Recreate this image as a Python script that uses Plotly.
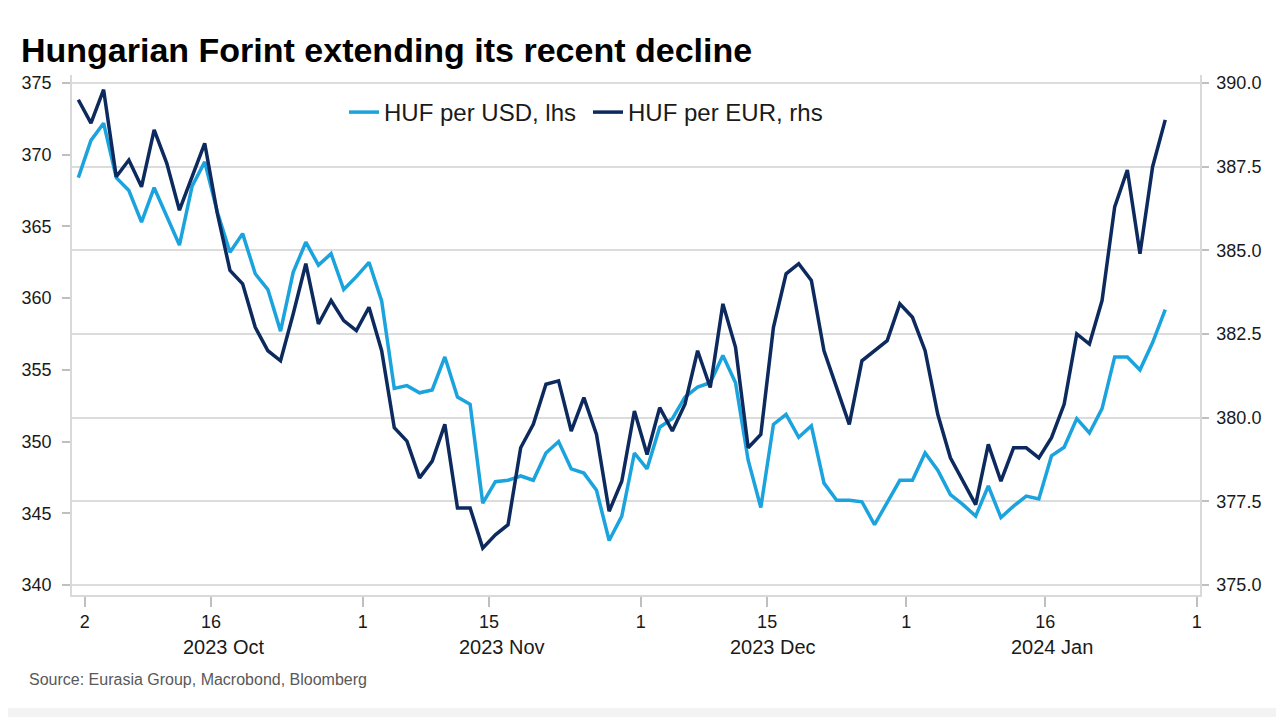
import numpy as np
import pandas as pd
import plotly.graph_objects as go

# ---- data ----
start_date = "2023-10-02"
end_date = "2024-01-30"
dates = pd.bdate_range(start_date, end_date)

huf_per_usd = [368.4, 371.0, 372.2, 368.4, 367.5, 365.3, 367.7, 365.7, 363.7, 367.8,
               369.5, 366.0, 363.2, 364.5, 361.7, 360.6, 357.7, 361.8, 363.9, 362.3,
               363.1, 360.6, 361.5, 362.5, 359.8, 353.7, 353.9, 353.4, 353.6, 355.9,
               353.1, 352.6, 345.7, 347.2, 347.3, 347.6, 347.3, 349.2, 350.0, 348.1,
               347.8, 346.6, 343.1, 344.8, 349.2, 348.1, 351.0, 351.6, 353.1, 353.8,
               354.1, 356.0, 354.1, 348.7, 345.4, 351.2, 351.9, 350.3, 351.1, 347.1,
               345.9, 345.9, 345.8, 344.2, 345.7, 347.3, 347.3, 349.2, 348.0, 346.3,
               345.6, 344.8, 346.9, 344.7, 345.5, 346.2, 346.0, 349.0, 349.6, 351.6,
               350.6, 352.3, 355.9, 355.9, 355.0, 356.9, 359.2]

huf_per_eur = [389.5, 388.8, 389.8, 387.2, 387.7, 386.9, 388.6, 387.6, 386.2, 387.2,
               388.2, 386.1, 384.4, 384.0, 382.7, 382.0, 381.7, 383.1, 384.6, 382.8,
               383.5, 382.9, 382.6, 383.3, 382.0, 379.7, 379.3, 378.2, 378.7, 379.8,
               377.3, 377.3, 376.1, 376.5, 376.8, 379.1, 379.8, 381.0, 381.1, 379.6,
               380.6, 379.5, 377.2, 378.1, 380.2, 378.9, 380.3, 379.6, 380.4, 382.0,
               380.9, 383.4, 382.1, 379.1, 379.5, 382.7, 384.3, 384.6, 384.1, 382.0,
               380.9, 379.8, 381.7, 382.0, 382.3, 383.4, 383.0, 382.0, 380.1, 378.8,
               378.1, 377.4, 379.2, 378.1, 379.1, 379.1, 378.8, 379.4, 380.4, 382.5,
               382.2, 383.5, 386.3, 387.4, 384.9, 387.5, 388.9]

tick_dates = ["2023-10-02", "2023-10-16", "2023-11-01", "2023-11-15", "2023-12-01",
              "2023-12-15", "2024-01-01", "2024-01-16", "2024-02-01"]
tick_labels = ["2", "16", "1", "15", "1", "15", "1", "16", "1"]
month_labels = ["2023 Oct", "2023 Nov", "2023 Dec", "2024 Jan"]
month_starts = ["2023-10-02", "2023-11-01", "2023-12-01", "2024-01-01", "2024-02-01"]

usd_ticks = [340, 345, 350, 355, 360, 365, 370, 375]
eur_ticks = [375.0, 377.5, 380.0, 382.5, 385.0, 387.5, 390.0]

title_text = "Hungarian Forint extending its recent decline"
source_text = "Source: Eurasia Group, Macrobond, Bloomberg"

LIGHT = "#1ba3dd"
DARK = "#0d2a5e"
FONT = "Arial, Liberation Sans, sans-serif"

# ---- business-time helpers ----
def bpos(d):
    return float(np.busday_count(start_date, d)) + 0.5

def bpos_to_dt(p):
    k = int(np.floor(p))
    f = p - k
    d = np.busday_offset(start_date, k, roll="forward")
    return pd.Timestamp(d) + pd.Timedelta(hours=24 * f)

tickvals = [bpos_to_dt(bpos(d)) for d in tick_dates]
month_mid = [bpos_to_dt((bpos(month_starts[i]) + bpos(month_starts[i + 1])) / 2)
             for i in range(len(month_labels))]
x_range = [bpos_to_dt(-0.5), bpos_to_dt(88.75)]

fig = go.Figure()
fig.add_trace(go.Scatter(x=dates, y=huf_per_usd, mode="lines", name="HUF per USD, lhs",
                         line=dict(color=LIGHT, width=3.5), yaxis="y"))
fig.add_trace(go.Scatter(x=dates, y=huf_per_eur, mode="lines", name="HUF per EUR, rhs",
                         line=dict(color=DARK, width=3.5), yaxis="y2"))

W, H = 1284, 717
L, R, T, B = 64, 1192, 67, 587   # plot area in figure pixels
pw, ph = R - L, B - T

def px_x(x):
    return (x - L) / pw

def px_y(y):
    return (B - y) / ph

annotations = []
for lab, mx in zip(month_labels, month_mid):
    annotations.append(dict(x=mx, xref="x", y=px_y(639), yref="paper", text=lab,
                            showarrow=False, xanchor="center", yanchor="middle",
                            font=dict(family=FONT, size=20, color="#1a1a1a")))
annotations.append(dict(x=px_x(19), xref="paper", y=px_y(671), yref="paper", text=source_text,
                        showarrow=False, xanchor="left", yanchor="middle",
                        font=dict(family=FONT, size=16, color="#595959")))
annotations.append(dict(x=px_x(11), xref="paper", y=px_y(42), yref="paper",
                        text="<b>" + title_text + "</b>",
                        showarrow=False, xanchor="left", yanchor="middle",
                        font=dict(family=FONT, size=34, color="#000000")))

shapes = [
    dict(type="rect", xref="paper", yref="paper", x0=px_x(0), x1=px_x(W), y0=px_y(700), y1=px_y(717),
         fillcolor="#f3f3f3", line=dict(width=0), layer="below"),
]

fig.update_layout(
    width=W, height=H,
    margin=dict(l=L, r=W - R, t=T, b=H - B, pad=0),
    paper_bgcolor="white", plot_bgcolor="white",
    font=dict(family=FONT, size=18, color="#1a1a1a"),
    showlegend=True,
    legend=dict(orientation="h", x=px_x(336), y=px_y(82), xanchor="left", yanchor="top",
                font=dict(family=FONT, size=24, color="#1a1a1a"),
                bgcolor="rgba(0,0,0,0)", entrywidth=199, entrywidthmode="pixels"),
    xaxis=dict(type="date", range=x_range,
               rangebreaks=[dict(bounds=["sat", "mon"])],
               tickmode="array", tickvals=tickvals, ticktext=tick_labels,
               ticks="outside", ticklen=10, tickwidth=1.5, tickcolor="#bfbfbf",
               showline=True, linecolor="#d9d9d9", linewidth=1.5,
               showgrid=False, zeroline=False,
               tickfont=dict(family=FONT, size=18, color="#1a1a1a")),
    yaxis=dict(range=[339.3, 375.56], tickmode="array", tickvals=usd_ticks,
               ticks="outside", ticklen=8, tickwidth=1.5, tickcolor="#bfbfbf",
               ticklabelstandoff=7,
               showline=True, linecolor="#d9d9d9", linewidth=1.5,
               showgrid=False, zeroline=False,
               tickfont=dict(family=FONT, size=18, color="#1a1a1a")),
    yaxis2=dict(range=[374.7, 390.24], overlaying="y", side="right",
                tickmode="array", tickvals=eur_ticks, tickformat=".1f",
                ticks="outside", ticklen=7, tickwidth=1.5, tickcolor="#bfbfbf",
                ticklabelstandoff=4,
                showline=True, linecolor="#d9d9d9", linewidth=1.5,
                showgrid=True, gridcolor="#dcdcdc", gridwidth=1.5, zeroline=False,
                tickfont=dict(family=FONT, size=18, color="#1a1a1a")),
    annotations=annotations,
    shapes=shapes,
)

fig.write_html("out.html")
